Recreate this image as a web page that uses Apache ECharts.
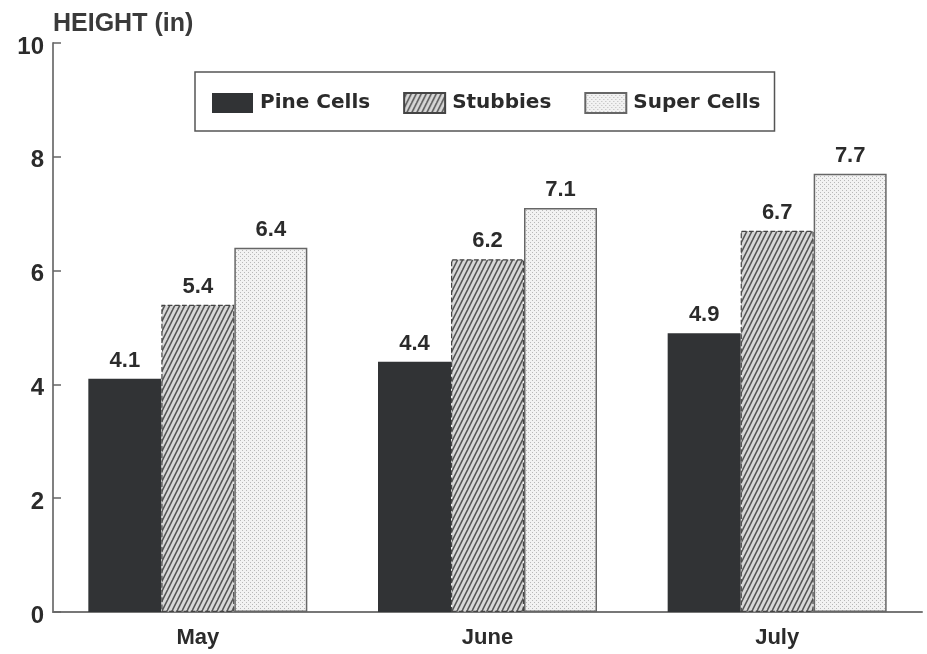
<!DOCTYPE html>
<html>
<head>
<meta charset="utf-8">
<script src="https://cdn.jsdelivr.net/npm/echarts@6/dist/echarts.min.js"></script>
<style>
  html, body { margin: 0; padding: 0; background: #fff; }
  #chart { width: 927px; height: 654px; }
</style>
</head>
<body>
<div id="chart"></div>
<script>
// Monthly plant heights by cell type
const months = ['May', 'June', 'July'];
const pineCells = [4.1, 4.4, 4.9];
const stubbies = [5.4, 6.2, 6.7];
const superCells = [6.4, 7.1, 7.7];
const seriesNames = ['Pine Cells', 'Stubbies', 'Super Cells'];

// Diagonal hatch fill for the Stubbies bars
function hatchPattern() {
  const c = document.createElement('canvas');
  c.width = 10; c.height = 10;
  const g = c.getContext('2d');
  g.fillStyle = '#d8d8d8';
  g.fillRect(0, 0, 10, 10);
  g.strokeStyle = '#555';
  g.lineWidth = 1.6;
  for (let k = -2; k <= 2; k++) {
    g.beginPath();
    g.moveTo(k * 5 - 2.5, 10);
    g.lineTo(k * 5 + 7.5, -10);
    g.stroke();
  }
  return c;
}

// Fine stipple fill for the Super Cells bars
function dotPattern() {
  const c = document.createElement('canvas');
  c.width = 4; c.height = 4;
  const g = c.getContext('2d');
  g.fillStyle = '#f2f2f2';
  g.fillRect(0, 0, 4, 4);
  g.fillStyle = '#b8b8b8';
  g.fillRect(0, 0, 1, 1);
  g.fillRect(2, 2, 1, 1);
  return c;
}

const font = '"Liberation Sans", Arial, sans-serif';
const labelStyle = {
  show: true,
  position: 'top',
  distance: 7,
  fontFamily: font,
  fontWeight: 'bold',
  fontSize: 22,
  color: '#2b2b2b',
  formatter: p => p.value.toFixed(1)
};

const chart = echarts.init(document.getElementById('chart'), null, { renderer: 'canvas' });
chart.setOption({
  animation: false,
  backgroundColor: '#fff',
  title: {
    text: 'HEIGHT (in)',
    left: 48,
    top: 7,
    textStyle: { fontFamily: font, fontWeight: 'bold', fontSize: 25, color: '#3a3a3a' }
  },
  legend: {
    data: seriesNames,
    left: 195,
    top: 72,
    padding: [20, 14, 17, 17],
    icon: 'rect',
    itemWidth: 41,
    itemHeight: 20,
    itemGap: 33,
    backgroundColor: '#fff',
    borderColor: '#555',
    borderWidth: 1.5,
    textStyle: {
      fontFamily: '"DejaVu Sans", sans-serif',
      fontWeight: 'bold',
      fontSize: 20,
      color: '#2b2b2b',
      padding: [4, 0, 0, 2]
    }
  },
  grid: { left: 53, right: 5, top: 43, bottom: 42 },
  xAxis: {
    type: 'category',
    data: months,
    axisLine: { lineStyle: { color: '#777', width: 2 } },
    axisTick: { show: false },
    axisLabel: {
      margin: 15,
      fontFamily: font,
      fontWeight: 'bold',
      fontSize: 22,
      color: '#2b2b2b'
    }
  },
  yAxis: {
    type: 'value',
    min: 0,
    max: 10,
    interval: 2,
    axisLine: { show: true, lineStyle: { color: '#808080', width: 2 } },
    axisTick: { show: true, inside: true, length: 8, lineStyle: { color: '#666', width: 1.5 } },
    splitLine: { show: false },
    axisLabel: {
      margin: 9,
      formatter: v => '{t|' + v + '}',
      rich: {
        t: {
          fontFamily: font,
          fontWeight: 'bold',
          fontSize: 24,
          color: '#2b2b2b',
          padding: [8, 0, 0, 0]
        }
      }
    }
  },
  series: [
    {
      name: seriesNames[0],
      type: 'bar',
      data: pineCells,
      barWidth: 73,
      barGap: '0%',
      itemStyle: { color: '#313335', borderWidth: 0 },
      label: labelStyle
    },
    {
      name: seriesNames[1],
      type: 'bar',
      data: stubbies,
      barWidth: 73,
      barGap: '0%',
      itemStyle: {
        color: { image: hatchPattern(), repeat: 'repeat' },
        borderColor: '#444',
        borderWidth: 1.2,
        borderType: 'dashed'
      },
      label: labelStyle
    },
    {
      name: seriesNames[2],
      type: 'bar',
      data: superCells,
      barWidth: 73,
      barGap: '0%',
      itemStyle: {
        color: { image: dotPattern(), repeat: 'repeat' },
        borderColor: '#666',
        borderWidth: 1.5
      },
      label: labelStyle
    }
  ]
});
</script>
</body>
</html>
